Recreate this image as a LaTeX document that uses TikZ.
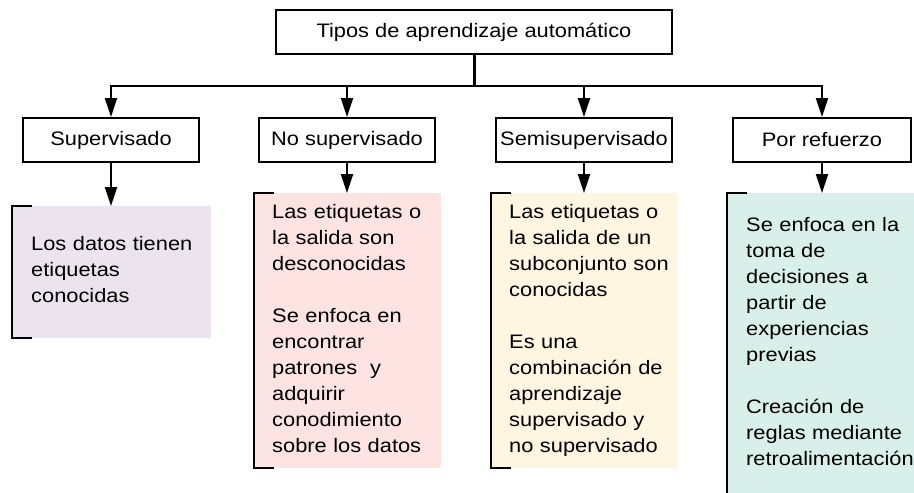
\documentclass[tikz,border=0pt]{standalone}
\usepackage{fontspec}
\setmainfont{Liberation Sans}[FakeStretch=1.12]
\usetikzlibrary{arrows.meta}
\definecolor{supfill}{HTML}{EBE4EE}
\definecolor{nosfill}{HTML}{FDE3E1}
\definecolor{semfill}{HTML}{FEF6E1}
\definecolor{porfill}{HTML}{D9EFEA}
\tikzset{
  boxfont/.style={font=\fontsize{19.5}{26}\selectfont},
  headbox/.style={draw, line width=2pt, inner sep=0pt, minimum height=44pt, boxfont},
  descfill/.style={draw=none, inner sep=0pt, anchor=north west},
  desctext/.style={anchor=base west, inner sep=0pt, text width=190pt, align=left, boxfont},
  bracket/.style={line width=2pt},
  trunk/.style={line width=3pt},
  conn/.style={line width=2pt, -{Triangle[length=19pt,width=12pt]}}
}
\begin{document}
\begin{tikzpicture}[x=1pt,y=-1pt]
\useasboundingbox (0,0) rectangle (914,493);

% description fills
\node[descfill, fill=supfill, minimum width=199pt, minimum height=132pt] (d1) at (12,206) {};
\node[descfill, fill=nosfill, minimum width=187pt, minimum height=275pt] (d2) at (254,193) {};
\node[descfill, fill=semfill, minimum width=187pt, minimum height=275pt] (d3) at (491,193) {};
\node[descfill, fill=porfill, minimum width=190pt, minimum height=312pt] (d4) at (727,193) {};

% brackets
\foreach \d in {d1,d2,d3,d4}{
  \draw[bracket] ([xshift=20pt]\d.north west) -- (\d.north west) -- (\d.south west) -- ([xshift=20pt]\d.south west);
}

% header boxes
\node[headbox, minimum width=396pt] (top) at (474,32) {Tipos de aprendizaje automático};
\node[headbox, minimum width=176pt] (c1) at (111,140) {Supervisado};
\node[headbox, minimum width=176pt] (c2) at (347,140) {No supervisado};
\node[headbox, minimum width=176pt] (c3) at (584,140) {Semisupervisado};
\node[headbox, minimum width=178pt] (c4) at (822,140) {Por refuerzo};

% connectors
\coordinate (hub) at (474,86);
\draw[trunk] (top.south) -- (hub);
\foreach \c in {c1,c2,c3,c4}{
  \draw[conn] (hub) -| (\c.north);
}
\draw[conn] (c1.south) -- (c1.south |- d1.north);
\draw[conn] (c2.south) -- (c2.south |- d2.north);
\draw[conn] (c3.south) -- (c3.south |- d3.north);
\draw[conn] (c4.south) -- (c4.south |- d4.north);

% texts
\node[desctext] (t1) at (31,250.7) {Los datos tienen\\etiquetas\\conocidas};
\node[desctext] (t2) at (272,218.3) {Las etiquetas o\\la salida son\\desconocidas\\[26pt]Se enfoca en\\encontrar\\patrones~ y\\adquirir\\conodimiento\\sobre los datos};
\node[desctext] (t3) at (509,218.3) {Las etiquetas o\\la salida de un\\subconjunto son\\conocidas\\[26pt]Es una\\combinación de\\aprendizaje\\supervisado y\\no supervisado};
\node[desctext] (t4) at (746,231.7) {Se enfoca en la\\toma de\\decisiones a\\partir de\\experiencias\\previas\\[26pt]Creación de\\reglas mediante\\retroalimentación};
\end{tikzpicture}
\end{document}
